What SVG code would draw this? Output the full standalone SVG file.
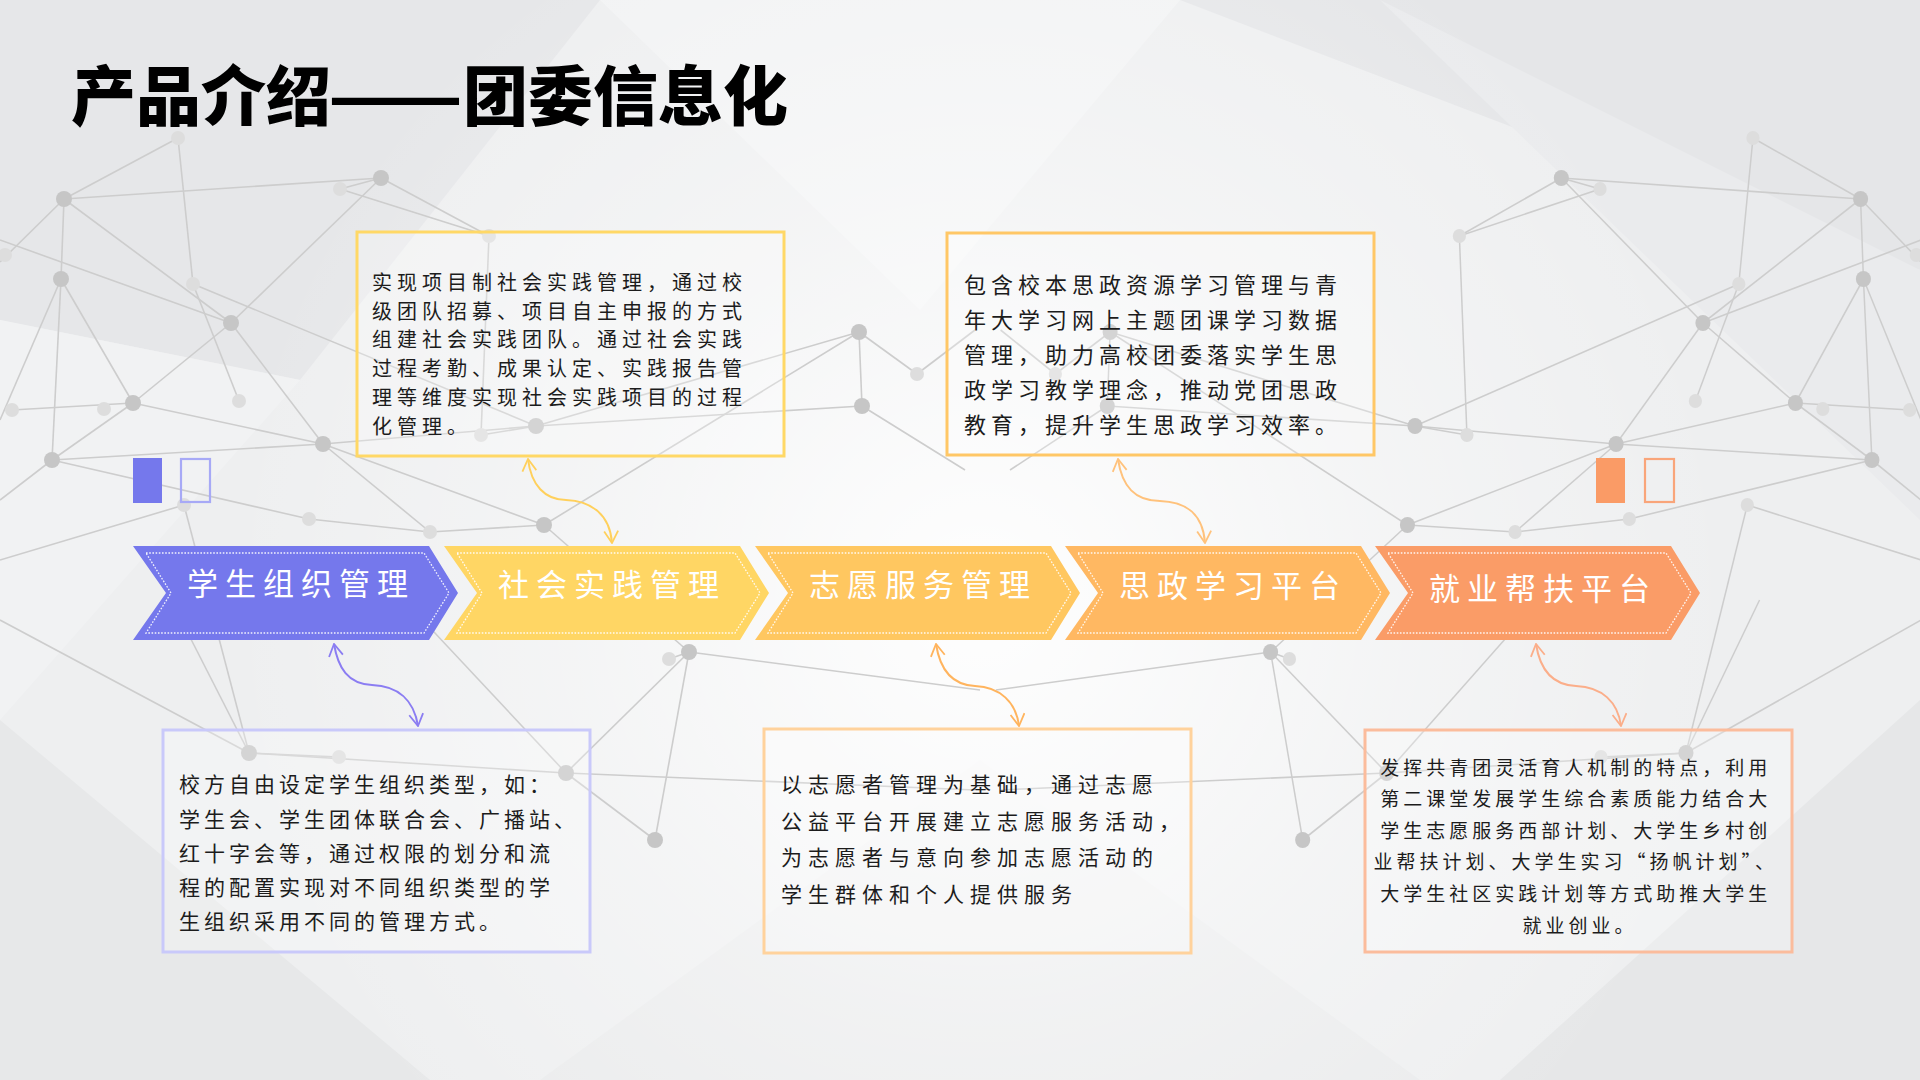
<svg xmlns="http://www.w3.org/2000/svg" xmlns:xlink="http://www.w3.org/1999/xlink" width="1920" height="1080" viewBox="0 0 1920 1080">
<defs>
<style>
.net line{stroke:#cdcdcd;stroke-width:1.6;}
.dn{fill:#c6c6c6;}
.ln{fill:#dddddd;}
.ctext{font-family:"Noto Sans CJK SC","Noto Sans",sans-serif;font-size:31px;letter-spacing:7px;fill:#ffffff;text-anchor:middle;}
.dots{fill:none;stroke:#ffffff;stroke-width:1.3;stroke-dasharray:1.6 1.6;opacity:0.9;}
.box{fill:#ffffff;fill-opacity:0.25;stroke-width:3;}
.btext{font-family:"Noto Sans CJK SC","Noto Sans",sans-serif;fill:#1c1c1c;}
.conn{fill:none;stroke-width:2;}
.ttl{font-family:"Noto Sans CJK SC","Noto Sans",sans-serif;font-size:65px;font-weight:900;fill:#000000;}
</style>
<radialGradient id="glow" cx="980" cy="600" r="760" gradientUnits="userSpaceOnUse">
<stop offset="0" stop-color="#ffffff" stop-opacity="0.95"/>
<stop offset="0.55" stop-color="#ffffff" stop-opacity="0.35"/>
<stop offset="1" stop-color="#ffffff" stop-opacity="0"/>
</radialGradient>
<path id="chev" d="M0,546 H296 L325,593 L296,640 H0 L33,593 Z"/>
<path id="chevdots" d="M13,553 H291 L316,593 L291,633 H13 L38,593 Z"/>
<marker id="ah1" viewBox="0 0 14 16" refX="13" refY="8" markerWidth="14" markerHeight="16" markerUnits="userSpaceOnUse" orient="auto-start-reverse"><path d="M1,1 L13,8 L1,15" fill="none" stroke="#8B7DF2" stroke-width="1.8"/></marker>
<marker id="ah2" viewBox="0 0 14 16" refX="13" refY="8" markerWidth="14" markerHeight="16" markerUnits="userSpaceOnUse" orient="auto-start-reverse"><path d="M1,1 L13,8 L1,15" fill="none" stroke="#FFD05C" stroke-width="1.8"/></marker>
<marker id="ah3" viewBox="0 0 14 16" refX="13" refY="8" markerWidth="14" markerHeight="16" markerUnits="userSpaceOnUse" orient="auto-start-reverse"><path d="M1,1 L13,8 L1,15" fill="none" stroke="#FFC27C" stroke-width="1.8"/></marker>
<marker id="ah4" viewBox="0 0 14 16" refX="13" refY="8" markerWidth="14" markerHeight="16" markerUnits="userSpaceOnUse" orient="auto-start-reverse"><path d="M1,1 L13,8 L1,15" fill="none" stroke="#FFB45E" stroke-width="1.8"/></marker>
<marker id="ah5" viewBox="0 0 14 16" refX="13" refY="8" markerWidth="14" markerHeight="16" markerUnits="userSpaceOnUse" orient="auto-start-reverse"><path d="M1,1 L13,8 L1,15" fill="none" stroke="#FBAE8A" stroke-width="1.8"/></marker>
<g id="netHalf" class="net">
<line x1="178" y1="138" x2="64" y2="199"/>
<line x1="64" y1="199" x2="381" y2="178"/>
<line x1="64" y1="199" x2="0" y2="262"/>
<line x1="64" y1="199" x2="61" y2="279"/>
<line x1="64" y1="199" x2="231" y2="323"/>
<line x1="178" y1="138" x2="193" y2="284"/>
<line x1="193" y1="284" x2="239" y2="401"/>
<line x1="381" y1="178" x2="231" y2="323"/>
<line x1="381" y1="178" x2="489" y2="236"/>
<line x1="340" y1="189" x2="489" y2="236"/>
<line x1="381" y1="178" x2="340" y2="189"/>
<line x1="61" y1="279" x2="133" y2="403"/>
<line x1="61" y1="279" x2="52" y2="460"/>
<line x1="61" y1="279" x2="0" y2="420"/>
<line x1="0" y1="240" x2="231" y2="323"/>
<line x1="231" y1="323" x2="133" y2="403"/>
<line x1="231" y1="323" x2="323" y2="444"/>
<line x1="133" y1="403" x2="323" y2="444"/>
<line x1="133" y1="403" x2="52" y2="460"/>
<line x1="12" y1="410" x2="133" y2="403"/>
<line x1="52" y1="460" x2="323" y2="444"/>
<line x1="52" y1="460" x2="0" y2="500"/>
<line x1="323" y1="444" x2="544" y2="525"/>
<line x1="323" y1="444" x2="536" y2="426"/>
<line x1="323" y1="444" x2="430" y2="532"/>
<line x1="193" y1="284" x2="536" y2="426"/>
<line x1="536" y1="426" x2="862" y2="406"/>
<line x1="536" y1="426" x2="859" y2="332"/>
<line x1="489" y1="236" x2="481" y2="435"/>
<line x1="544" y1="525" x2="859" y2="332"/>
<line x1="544" y1="525" x2="689" y2="652"/>
<line x1="859" y1="332" x2="862" y2="406"/>
<line x1="862" y1="406" x2="965" y2="470"/>
<line x1="859" y1="332" x2="917" y2="374"/>
<line x1="917" y1="374" x2="975" y2="330"/>
<line x1="689" y1="652" x2="669" y2="659"/>
<line x1="689" y1="652" x2="655" y2="840"/>
<line x1="689" y1="652" x2="566" y2="773"/>
<line x1="689" y1="652" x2="980" y2="690"/>
<line x1="249" y1="753" x2="566" y2="773"/>
<line x1="566" y1="773" x2="975" y2="790"/>
<line x1="249" y1="753" x2="0" y2="620"/>
<line x1="249" y1="753" x2="171" y2="600"/>
<line x1="566" y1="773" x2="404" y2="600"/>
<line x1="655" y1="840" x2="566" y2="773"/>
<line x1="52" y1="460" x2="309" y2="519"/>
<line x1="309" y1="519" x2="430" y2="532"/>
<line x1="430" y1="532" x2="544" y2="525"/>
<line x1="249" y1="753" x2="339" y2="757"/>
<line x1="481" y1="435" x2="536" y2="426"/>
<line x1="0" y1="560" x2="184" y2="505"/>
<line x1="184" y1="505" x2="249" y2="753"/>
<circle class="ln" cx="178" cy="138" r="7"/>
<circle class="ln" cx="340" cy="189" r="7"/>
<circle class="ln" cx="489" cy="236" r="7"/>
<circle class="ln" cx="5" cy="255" r="7"/>
<circle class="ln" cx="193" cy="284" r="7"/>
<circle class="ln" cx="104" cy="409" r="7"/>
<circle class="ln" cx="12" cy="410" r="7"/>
<circle class="ln" cx="239" cy="401" r="7"/>
<circle class="ln" cx="481" cy="435" r="7"/>
<circle class="ln" cx="184" cy="505" r="7"/>
<circle class="ln" cx="309" cy="519" r="7"/>
<circle class="ln" cx="430" cy="532" r="7"/>
<circle class="ln" cx="669" cy="659" r="7"/>
<circle class="ln" cx="917" cy="374" r="7"/>
<circle class="ln" cx="339" cy="757" r="7"/>
<circle class="dn" cx="64" cy="199" r="8"/>
<circle class="dn" cx="381" cy="178" r="8"/>
<circle class="dn" cx="61" cy="279" r="8"/>
<circle class="dn" cx="231" cy="323" r="8"/>
<circle class="dn" cx="133" cy="403" r="8"/>
<circle class="dn" cx="323" cy="444" r="8"/>
<circle class="dn" cx="536" cy="426" r="8"/>
<circle class="dn" cx="52" cy="460" r="8"/>
<circle class="dn" cx="544" cy="525" r="8"/>
<circle class="dn" cx="689" cy="652" r="8"/>
<circle class="dn" cx="859" cy="332" r="8"/>
<circle class="dn" cx="862" cy="406" r="8"/>
<circle class="dn" cx="249" cy="753" r="8"/>
<circle class="dn" cx="566" cy="773" r="8"/>
<circle class="dn" cx="655" cy="840" r="8"/>
</g>
</defs>

<g id="background">
<rect x="0" y="0" width="1920" height="1080" fill="#eeeff0"/>
<polygon points="0,0 600,0 300,380 0,320" fill="#e6e7e9"/>
<polygon points="600,0 1180,0 920,310" fill="#f2f3f4"/>
<polygon points="1180,0 1920,0 1920,270 1520,130" fill="#e5e6e8"/>
<polygon points="1380,0 1920,270 1920,520" fill="#eaebed"/>
<polygon points="0,720 430,1080 0,1080" fill="#e7e8e9"/>
<polygon points="540,1080 980,760 1420,1080" fill="#eaebec"/>
<polygon points="1920,700 1920,1080 1500,1080" fill="#e6e7e8"/>
<polygon points="0,320 300,380 0,720" fill="#f1f2f3"/>
<rect x="0" y="0" width="1920" height="1080" fill="url(#glow)"/>
<use xlink:href="#netHalf"/>
<use xlink:href="#netHalf" transform="translate(1921,0) scale(-0.944,1)"/>
</g>

<g id="title">
<text class="ttl" x="71" y="120">产品介绍</text>
<text class="ttl" x="328" y="120" textLength="135" lengthAdjust="spacingAndGlyphs">——</text>
<text class="ttl" x="463" y="120">团委信息化</text>
</g>

<g id="deco-left">
<rect x="133" y="458" width="29" height="45" fill="#7578EC"/>
<rect x="181" y="459" width="29" height="43" fill="none" stroke="#A7A9F6" stroke-width="2.2"/>
</g>
<g id="deco-right">
<rect x="1596" y="458" width="29" height="45" fill="#FA9B66"/>
<rect x="1645" y="459" width="29" height="43" fill="none" stroke="#F9A57A" stroke-width="2.2"/>
</g>

<g id="node-1" transform="translate(133,0)">
<use xlink:href="#chev" fill="#7578EC"/>
<use xlink:href="#chevdots" class="dots"/>
<text class="ctext" x="168" y="595">学生组织管理</text>
</g>
<g id="node-2" transform="translate(444,0)">
<use xlink:href="#chev" fill="#FFD664"/>
<use xlink:href="#chevdots" class="dots"/>
<text class="ctext" x="168" y="596">社会实践管理</text>
</g>
<g id="node-3" transform="translate(755,0)">
<use xlink:href="#chev" fill="#FFC760"/>
<use xlink:href="#chevdots" class="dots"/>
<text class="ctext" x="168" y="596">志愿服务管理</text>
</g>
<g id="node-4" transform="translate(1065,0)">
<use xlink:href="#chev" fill="#FFB862"/>
<use xlink:href="#chevdots" class="dots"/>
<text class="ctext" x="168" y="597">思政学习平台</text>
</g>
<g id="node-5" transform="translate(1375,0)">
<use xlink:href="#chev" fill="#FA9C67"/>
<use xlink:href="#chevdots" class="dots"/>
<text class="ctext" x="168" y="600">就业帮扶平台</text>
</g>

<g id="box-1">
<rect class="box" x="357" y="232" width="427" height="224" stroke="#FFD866"/>
<text class="btext" font-size="20" letter-spacing="5">
<tspan x="372" y="290">实现项目制社会实践管理，通过校</tspan>
<tspan x="372" y="319">级团队招募、项目自主申报的方式</tspan>
<tspan x="372" y="347">组建社会实践团队。通过社会实践</tspan>
<tspan x="372" y="376">过程考勤、成果认定、实践报告管</tspan>
<tspan x="372" y="405">理等维度实现社会实践项目的过程</tspan>
<tspan x="372" y="434">化管理。</tspan>
</text>
</g>

<g id="box-2">
<rect class="box" x="947" y="233" width="427" height="222" stroke="#FFC766"/>
<text class="btext" font-size="22" letter-spacing="5">
<tspan x="964" y="293">包含校本思政资源学习管理与青</tspan>
<tspan x="964" y="328">年大学习网上主题团课学习数据</tspan>
<tspan x="964" y="363">管理，助力高校团委落实学生思</tspan>
<tspan x="964" y="398">政学习教学理念，推动党团思政</tspan>
<tspan x="964" y="433">教育，提升学生思政学习效率。</tspan>
</text>
</g>

<g id="box-3">
<rect class="box" x="163" y="730" width="427" height="222" stroke="#C9C9FA"/>
<text class="btext" font-size="21" letter-spacing="4">
<tspan x="179" y="792">校方自由设定学生组织类型，如：</tspan>
<tspan x="179" y="827">学生会、学生团体联合会、广播站、</tspan>
<tspan x="179" y="861">红十字会等，通过权限的划分和流</tspan>
<tspan x="179" y="895">程的配置实现对不同组织类型的学</tspan>
<tspan x="179" y="929">生组织采用不同的管理方式。</tspan>
</text>
</g>

<g id="box-4">
<rect class="box" x="764" y="729" width="427" height="224" stroke="#FFD29C"/>
<text class="btext" font-size="21" letter-spacing="6">
<tspan x="781" y="792">以志愿者管理为基础，通过志愿</tspan>
<tspan x="781" y="829">公益平台开展建立志愿服务活动，</tspan>
<tspan x="781" y="865">为志愿者与意向参加志愿活动的</tspan>
<tspan x="781" y="902">学生群体和个人提供服务</tspan>
</text>
</g>

<g id="box-5">
<rect class="box" x="1365" y="730" width="427" height="222" stroke="#FBBC9C"/>
<text class="btext" font-size="19" letter-spacing="4" text-anchor="middle">
<tspan x="1580" y="775">发挥共青团灵活育人机制的特点，利用</tspan>
<tspan x="1580" y="806">第二课堂发展学生综合素质能力结合大</tspan>
<tspan x="1580" y="838">学生志愿服务西部计划、大学生乡村创</tspan>
<tspan x="1580" y="869">业帮扶计划、大学生实习“扬帆计划”、</tspan>
<tspan x="1580" y="901">大学生社区实践计划等方式助推大学生</tspan>
<tspan x="1580" y="933">就业创业。</tspan>
</text>
</g>

<g id="connectors">
<path class="conn" stroke="#8B7DF2" marker-start="url(#ah1)" marker-end="url(#ah1)" d="M334,644 C338,668 348,684 372,685 C398,686 414,700 418,726"/>
<path class="conn" stroke="#FFD05C" marker-start="url(#ah2)" marker-end="url(#ah2)" d="M528,459 C531,485 545,500 566,500 C592,501 610,515 612,543"/>
<path class="conn" stroke="#FFC27C" marker-start="url(#ah3)" marker-end="url(#ah3)" d="M1118,459 C1122,487 1135,501 1160,501 C1188,502 1203,515 1205,543"/>
<path class="conn" stroke="#FFB45E" marker-start="url(#ah4)" marker-end="url(#ah4)" d="M936,644 C940,670 952,685 975,686 C1000,687 1016,702 1019,726"/>
<path class="conn" stroke="#FBAE8A" marker-start="url(#ah5)" marker-end="url(#ah5)" d="M1536,644 C1540,670 1552,685 1576,686 C1602,687 1618,702 1621,726"/>
</g>
</svg>
